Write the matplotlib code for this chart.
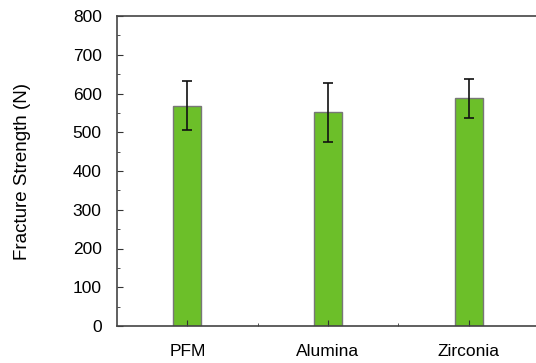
import numpy as np
import matplotlib.pyplot as plt
from matplotlib.ticker import MultipleLocator

# data
groups = ["PFM", "Alumina", "Zirconia"]
strength = [568, 551, 588]
err = [63, 77, 50]

plt.rcParams['font.family'] = ['Liberation Sans', 'DejaVu Sans']

fig = plt.figure(figsize=(5.36, 3.63), dpi=100)
ax = fig.add_axes([117/536, 37/363, 422/536, 310/363])

x = np.arange(len(groups))
ax.bar(x, strength, width=0.2, color="#6cbf29", edgecolor="#777777", linewidth=1.0)
ax.errorbar(x, strength, yerr=err, fmt="none", ecolor="#111111", elinewidth=1.2,
            capsize=3.5, capthick=1.2)

ax.set_xlim(-0.5, 2.5)
ax.set_ylim(0, 800)
ax.set_xticks(x)
ax.set_xticklabels(groups, fontsize=12.5)
ax.set_xticks([0.5, 1.5], minor=True)
ax.yaxis.set_major_locator(MultipleLocator(100))
ax.yaxis.set_minor_locator(MultipleLocator(50))
ax.tick_params(axis='y', which='major', direction='in', length=4, labelsize=12.5, pad=11, color="#333333")
ax.tick_params(axis='y', which='minor', direction='in', length=2, color="#333333")
ax.tick_params(axis='x', which='major', direction='in', length=4, pad=13, color="#333333")
ax.tick_params(axis='x', which='minor', direction='in', length=2, color="#333333")
ax.set_ylabel("Fracture Strength (N)", fontsize=13.5, labelpad=30)

for s in ["left", "bottom", "top", "right"]:
    ax.spines[s].set_color("#444444")
    ax.spines[s].set_linewidth(1.2)

fig.savefig("out.png", dpi=100)
